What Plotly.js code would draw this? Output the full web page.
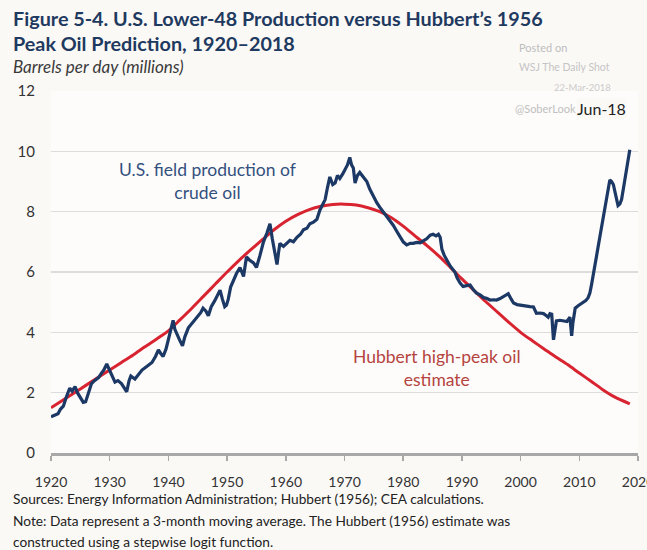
<!DOCTYPE html>
<html>
<head>
<meta charset="utf-8">
<script src="https://cdn.plot.ly/plotly-3.0.1.min.js"></script>
<style>
html,body{margin:0;padding:0;background:#fbf9f6;overflow:hidden;}
#chart{width:647px;height:550px;}
</style>
</head>
<body>
<div id="chart"></div>
<script>
// U.S. field production of crude oil (lower 48), millions of barrels per day
const prodYears = [1920.0,1920.6,1921.2,1921.6,1922.1,1922.6,1923.2,1923.6,1924.1,1924.5,1924.9,1925.5,1925.9,1926.4,1926.9,1927.4,1928.1,1928.6,1929.0,1929.5,
1930.0,1930.4,1930.9,1931.4,1932.0,1932.5,1932.9,1933.3,1933.6,1934.3,1934.9,1935.5,1936.2,1937.2,1937.8,1938.3,1938.7,1939.1,1939.6,
1940.0,1940.5,1940.8,1941.1,1941.4,1941.9,1942.4,1942.8,1943.4,1944.0,1944.6,1945.1,1945.5,1945.9,1946.4,1946.8,1947.3,1947.9,1948.4,1948.8,1949.2,1949.6,1949.9,
1950.2,1950.6,1951.1,1951.6,1952.2,1952.8,1953.3,1953.8,1954.5,1955.0,1955.6,1956.2,1956.8,1957.3,1957.7,1958.2,1958.5,1958.8,1959.0,1959.6,
1960.2,1960.7,1961.3,1961.9,1962.5,1963.0,1963.6,1964.1,1964.7,1965.3,1965.8,1966.3,1966.7,1967.1,1967.5,1968.0,1968.4,1968.8,1969.2,1969.7,
1970.1,1970.5,1970.9,1971.2,1971.5,1971.8,1972.2,1972.6,1973.2,1973.8,1974.3,1974.9,1975.5,1976.0,1976.6,1977.2,1977.8,1978.3,1978.9,1979.5,
1980.0,1980.6,1981.2,1981.7,1982.3,1982.9,1983.5,1984.0,1984.6,1985.1,1985.6,1986.0,1986.3,1986.6,1987.0,1987.4,1988.0,1988.8,1989.2,1989.7,
1990.2,1990.8,1991.4,1992.0,1992.5,1993.1,1993.7,1994.2,1994.8,1995.4,1995.9,1996.5,1997.2,1997.9,1998.4,1998.8,1999.4,1999.9,
2000.6,2001.2,2001.6,2002.2,2002.7,2003.3,2003.9,2004.4,2004.7,2005.0,2005.3,2005.6,2005.8,2006.1,2006.7,2007.3,2007.9,2008.4,2008.7,2008.9,2009.3,2009.8,
2010.3,2010.7,2011.1,2011.5,2011.8,2012.1,2012.5,2013.0,2013.4,2013.8,2014.2,2014.7,2015.0,2015.2,2015.5,2015.8,2016.2,2016.6,2016.9,2017.2,2017.5,2017.8,2018.2,2018.6];
const prodValues = [1.20,1.25,1.30,1.45,1.55,1.85,2.15,2.05,2.20,2.00,1.85,1.68,1.70,2.00,2.30,2.40,2.50,2.65,2.75,2.95,
2.75,2.60,2.35,2.40,2.30,2.15,2.03,2.40,2.55,2.45,2.60,2.75,2.85,3.00,3.20,3.42,3.30,3.20,3.45,
3.75,4.10,4.40,4.10,3.95,3.75,3.55,3.85,4.15,4.30,4.45,4.55,4.65,4.80,4.70,4.55,4.85,5.05,5.25,5.40,5.10,4.85,4.90,
5.10,5.50,5.75,5.95,6.15,5.85,6.50,6.40,6.30,6.15,6.55,7.00,7.30,7.60,7.10,6.50,6.25,6.70,6.95,6.85,
6.95,7.05,7.00,7.15,7.25,7.40,7.45,7.60,7.65,7.75,8.05,8.25,8.40,8.80,9.15,8.90,8.95,9.20,9.10,9.25,
9.40,9.55,9.80,9.55,9.45,8.95,9.20,9.30,9.15,9.00,8.75,8.50,8.30,8.15,8.00,7.85,7.70,7.55,7.35,7.17,
7.00,6.90,6.95,6.95,6.98,6.97,7.05,7.10,7.22,7.25,7.20,7.25,7.15,6.75,6.55,6.40,6.20,6.00,5.80,5.63,
5.52,5.55,5.57,5.40,5.30,5.24,5.15,5.13,5.07,5.08,5.07,5.12,5.20,5.28,5.10,4.97,4.92,4.90,
4.88,4.86,4.85,4.84,4.63,4.64,4.62,4.55,4.50,4.62,4.60,3.75,4.00,4.38,4.40,4.38,4.36,4.50,3.88,4.30,4.80,4.88,
4.95,4.98,5.05,5.15,5.30,5.60,6.00,6.60,7.05,7.50,7.95,8.50,8.90,9.05,9.00,8.90,8.55,8.20,8.25,8.40,8.75,9.15,9.60,10.05];

// Hubbert (1956) high-peak estimate
const hubYears = [1920,1922,1924,1926,1928,1930,1932,1934,1936,1938,1940,1942,1944,1946,1948,1950,1952,1954,1956,1958,
1960,1962,1964,1966,1968,1970,1972,1974,1976,1978,1980,1982,1984,1986,1988,1990,1992,1994,1996,1998,
2000,2002,2004,2006,2008,2010,2012,2014,2016,2018.6];
const hubValues = [1.50,1.75,2.00,2.25,2.50,2.75,3.00,3.25,3.52,3.78,4.05,4.42,4.80,5.20,5.60,6.00,6.38,6.73,7.07,7.40,
7.68,7.90,8.07,8.18,8.24,8.25,8.22,8.13,8.00,7.80,7.52,7.20,6.88,6.54,6.16,5.77,5.40,5.03,4.68,4.33,
4.00,3.72,3.45,3.18,2.93,2.65,2.38,2.10,1.86,1.63];

const xTicks = [1920,1930,1940,1950,1960,1970,1980,1990,2000,2010,2020];
const yTicks = [0,2,4,6,8,10,12];

const W = 647, H = 550, L = 51, R = 9, T = 91, B = 97;
const pw = W - L - R, ph = H - T - B;
const px = x => (x - L) / pw;
const py = y => (H - B - y) / ph;

const FONT = 'Lato, "Open Sans", sans-serif';
const navy = '#1c3865';
const red = '#d82430';

function txt(text, x, y, size, color, opts) {
  return Object.assign({
    text: text, xref: 'paper', yref: 'paper', x: px(x), y: py(y),
    xanchor: 'left', yanchor: 'middle', showarrow: false,
    font: {family: FONT, size: size, color: color}
  }, opts || {});
}

const annotations = [
  txt('<b>Figure 5-4. U.S. Lower-48 Production versus Hubbert’s 1956</b>', 11, 18, 19.8, '#1f3a60'),
  txt('<b>Peak Oil Prediction, 1920–2018</b>', 11, 43, 19.8, '#1f3a60'),
  txt('<i>Barrels per day (millions)</i>', 11, 67, 17, '#3a3a3a'),
  txt('Posted on', 517, 47, 11, '#bdbdbd'),
  txt('WSJ The Daily Shot', 517, 67, 10.5, '#c4c4c4'),
  txt('22-Mar-2018', 613, 87, 9.5, '#cbcbcb', {xanchor: 'right'}),
  txt('@SoberLook', 513, 108, 11, '#c0c0c0'),
  txt('Jun-18', 627, 108, 16, '#222222', {xanchor: 'right', bgcolor: '#fbf9f6', borderpad: 0}),
  txt('U.S. field production of<br>crude oil', 207, 181, 17.5, '#34507f', {xanchor: 'center', align: 'center'}),
  txt('Hubbert high-peak oil<br>estimate', 437, 368, 17.5, '#b5443f', {xanchor: 'center', align: 'center'}),
  txt('Sources: Energy Information Administration; Hubbert (1956); CEA calculations.', 11, 498, 13.7, '#222222'),
  txt('Note: Data represent a 3-month moving average. The Hubbert (1956) estimate was', 11, 520, 13.7, '#222222'),
  txt('constructed using a stepwise logit function.', 11, 541, 13.7, '#222222')
];

const data = [
  {x: hubYears, y: hubValues, type: 'scatter', mode: 'lines',
   line: {color: red, width: 3, shape: 'spline', smoothing: 0.8}, hoverinfo: 'skip'},
  {x: prodYears, y: prodValues, type: 'scatter', mode: 'lines',
   line: {color: navy, width: 3.2}, hoverinfo: 'skip'}
];

const layout = {
  width: W, height: H,
  margin: {l: L, r: R, t: T, b: B, pad: 0},
  paper_bgcolor: '#fbf9f6',
  plot_bgcolor: '#fdfcfa',
  showlegend: false,
  font: {family: FONT, size: 14, color: '#333333'},
  xaxis: {
    range: [1920, 2020], tickvals: xTicks, ticktext: xTicks.map(String),
    showgrid: false, zeroline: false,
    showline: true, linecolor: '#a8a8a8', linewidth: 3,
    ticks: 'outside', ticklen: 5, tickwidth: 1.5, tickcolor: '#a8a8a8',
    tickfont: {family: FONT, size: 14, color: '#333333'},
    ticklabelstandoff: 9,
    ticklabeloverflow: 'allow',
    fixedrange: true
  },
  yaxis: {
    range: [0, 12], tickvals: yTicks, ticktext: yTicks.map(String),
    showgrid: true, gridcolor: '#dcdcdc', gridwidth: 1.5,
    zeroline: false, showline: false, ticks: '',
    tickfont: {family: FONT, size: 15, color: '#333333'},
    ticklabelstandoff: 15,
    fixedrange: true
  },
  annotations: annotations
};

Plotly.newPlot('chart', data, layout, {displayModeBar: false, staticPlot: true});
</script>
</body>
</html>
